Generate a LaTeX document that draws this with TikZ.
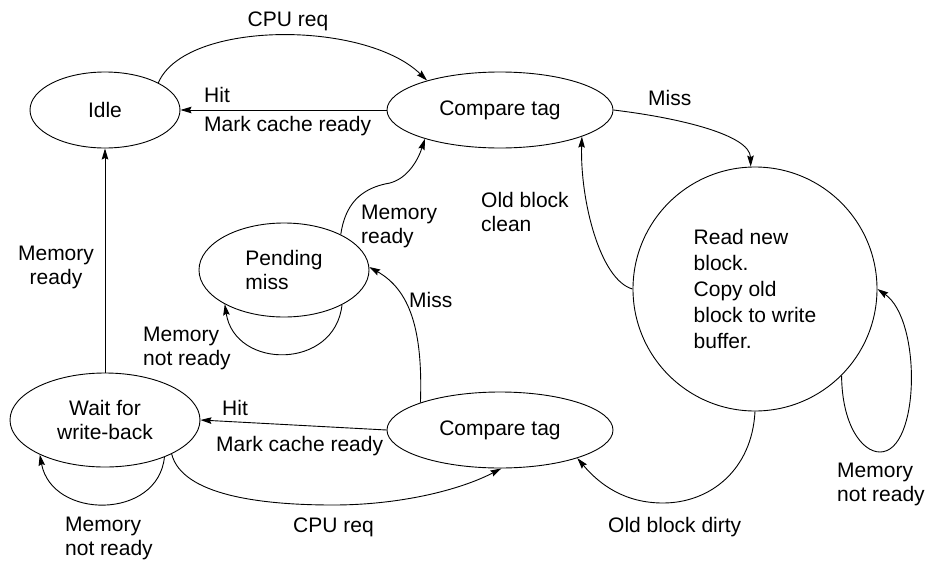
\documentclass[tikz,border=0pt]{standalone}
\usepackage{fontspec}
\setmainfont{Liberation Sans}
\usetikzlibrary{arrows.meta,shapes.geometric}
\begin{document}
\begin{tikzpicture}[x=1pt,y=-1pt,
  every node/.style={font=\fontsize{21}{24}\selectfont},
  state/.style={draw, ellipse, inner sep=0pt, line width=0.9pt},
  arr/.style={-{Stealth[length=11pt,width=6.5pt,inset=1.5pt]}, line width=0.9pt},
  lab/.style={inner sep=0pt, anchor=base west},
  clab/.style={inner sep=0pt, anchor=base}]
\fill[white] (0,0) rectangle (935,560);
\useasboundingbox (0,0) rectangle (935,560);
% states
\node[state, minimum width=150pt, minimum height=76pt] (idle) at (105,110) {Idle};
\node[state, minimum width=226pt, minimum height=76pt] (ct) at (500,110) {Compare tag};
\node[draw, circle, inner sep=0pt, line width=0.9pt, minimum size=244pt, align=left,
      font=\fontsize{21}{26}\selectfont] (big) at (755,289)
      {Read new\\block.\\Copy old\\block to write\\buffer.};
\node[state, minimum width=170pt, minimum height=94pt, align=left] (pm) at (284,270) {Pending\\miss};
\node[state, minimum width=190pt, minimum height=94pt, align=center] (wait) at (105,420) {Wait for\\write-back};
\node[state, minimum width=226pt, minimum height=76pt] (bct) at (500,430) {Compare tag};
% connectors
\draw[arr] (idle.27) .. controls (185,20) and (365,20) .. (ct.158);
\draw[arr] (ct.west) -- (idle.east);
\draw[arr] (ct.east) .. controls (680,118) and (750,135) .. (big.92);
\draw[arr] (big.west) .. controls (600,280) and (580,200) .. (ct.342);
\draw[arr] (big.315) .. controls (842,425) and (862,452) .. (880,452)
   .. controls (920,452) and (922,320) .. (big.0);
\draw[arr] (big.270) .. controls (752,470) and (710,503) .. (663,503)
   .. controls (625,503) and (600,485) .. (bct.340);
\draw[arr] (pm.32) .. controls (345,205) and (360,188) .. (390,183)
   .. controls (408,178) and (418,160) .. (ct.201);
\draw[arr] (pm.329) .. controls (335,370) and (235,370) .. (pm.210);
\draw[arr] (bct.161) .. controls (423,330) and (410,290) .. (pm.2);
\draw[arr] (bct.west) -- (wait.east);
\draw[arr] (wait.333) .. controls (182,495) and (260,505) .. (333,505)
   .. controls (400,505) and (460,490) .. (bct.272);
\draw[arr] (wait.328) .. controls (158,520) and (52,520) .. (wait.208);
\draw[arr] (wait.north) -- (idle.south);
% labels
\node[clab] (l1) at (288,26) {CPU req};
\node[lab] (l2) at (204,102) {Hit};
\node[lab] (l3) at (204,131) {Mark cache ready};
\node[lab] (l4) at (648,105) {Miss};
\node[lab] (l5) at (481,207) {\begin{tabular}[t]{@{}l@{}}Old block\\clean\end{tabular}};
\node[lab] (l6) at (361,219) {\begin{tabular}[t]{@{}l@{}}Memory\\ready\end{tabular}};
\node[lab] (l7) at (409,307) {Miss};
\node[lab] (l8) at (143,341) {\begin{tabular}[t]{@{}l@{}}Memory\\not ready\end{tabular}};
\node[clab] (l9) at (56,260) {\begin{tabular}[t]{@{}c@{}}Memory\\ready\end{tabular}};
\node[lab] (l10) at (222,415) {Hit};
\node[lab] (l11) at (216,451) {Mark cache ready};
\node[lab] (l12) at (293,532) {CPU req};
\node[lab] (l13) at (65,531) {\begin{tabular}[t]{@{}l@{}}Memory\\not ready\end{tabular}};
\node[lab] (l14) at (608,532) {Old block dirty};
\node[lab] (l15) at (837,477) {\begin{tabular}[t]{@{}l@{}}Memory\\not ready\end{tabular}};
\end{tikzpicture}
\end{document}
